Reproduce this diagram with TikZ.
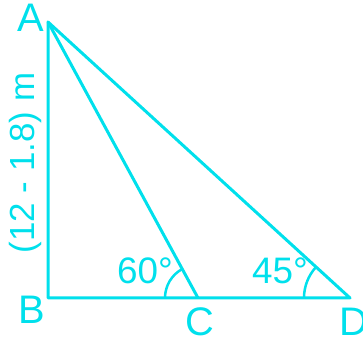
\documentclass[tikz,border=0pt]{standalone}
\usepackage{fontspec}
\setmainfont{Liberation Sans}
\usepackage{tikz}
\usetikzlibrary{angles}
\definecolor{linecyan}{RGB}{0, 224, 236}

\begin{document}
\begin{tikzpicture}[x=1bp, y=1bp,
  side/.style={draw=linecyan, line width=3bp, line join=round},
  vlabel/.style={text=linecyan, inner sep=0pt, font=\fontsize{40}{44}\selectfont},
  alabel/.style={text=linecyan, inner sep=0pt, font=\fontsize{37}{40}\selectfont},
  anglemark/.style={draw=linecyan, line width=2.5bp}
]
\useasboundingbox (0,0) rectangle (363,339);
\coordinate (A) at (48,317);
\coordinate (B) at (48,41);
\coordinate (C) at (198,41);
\coordinate (D) at (350,41);
\draw[side] (A) -- (B) -- (D) -- cycle;
\draw[side] (A) -- (C);
\pic[anglemark, angle radius=33bp] {angle=A--C--B};
\pic[anglemark, angle radius=46bp] {angle=A--D--C};
\node[vlabel] (lA) at (31,321) {A};
\node[vlabel] (lB) at (32,29) {B};
\node[vlabel] (lC) at (200,17) {C};
\node[vlabel] (lD) at (354,17) {D};
\node[alabel] (a60) at (145,68) {60°};
\node[alabel] (a45) at (280,68) {45°};
\node[alabel, rotate=90, font=\fontsize{35}{38}\selectfont] (hAB) at (25,176) {(12 - 1.8) m};
\end{tikzpicture}
\end{document}
